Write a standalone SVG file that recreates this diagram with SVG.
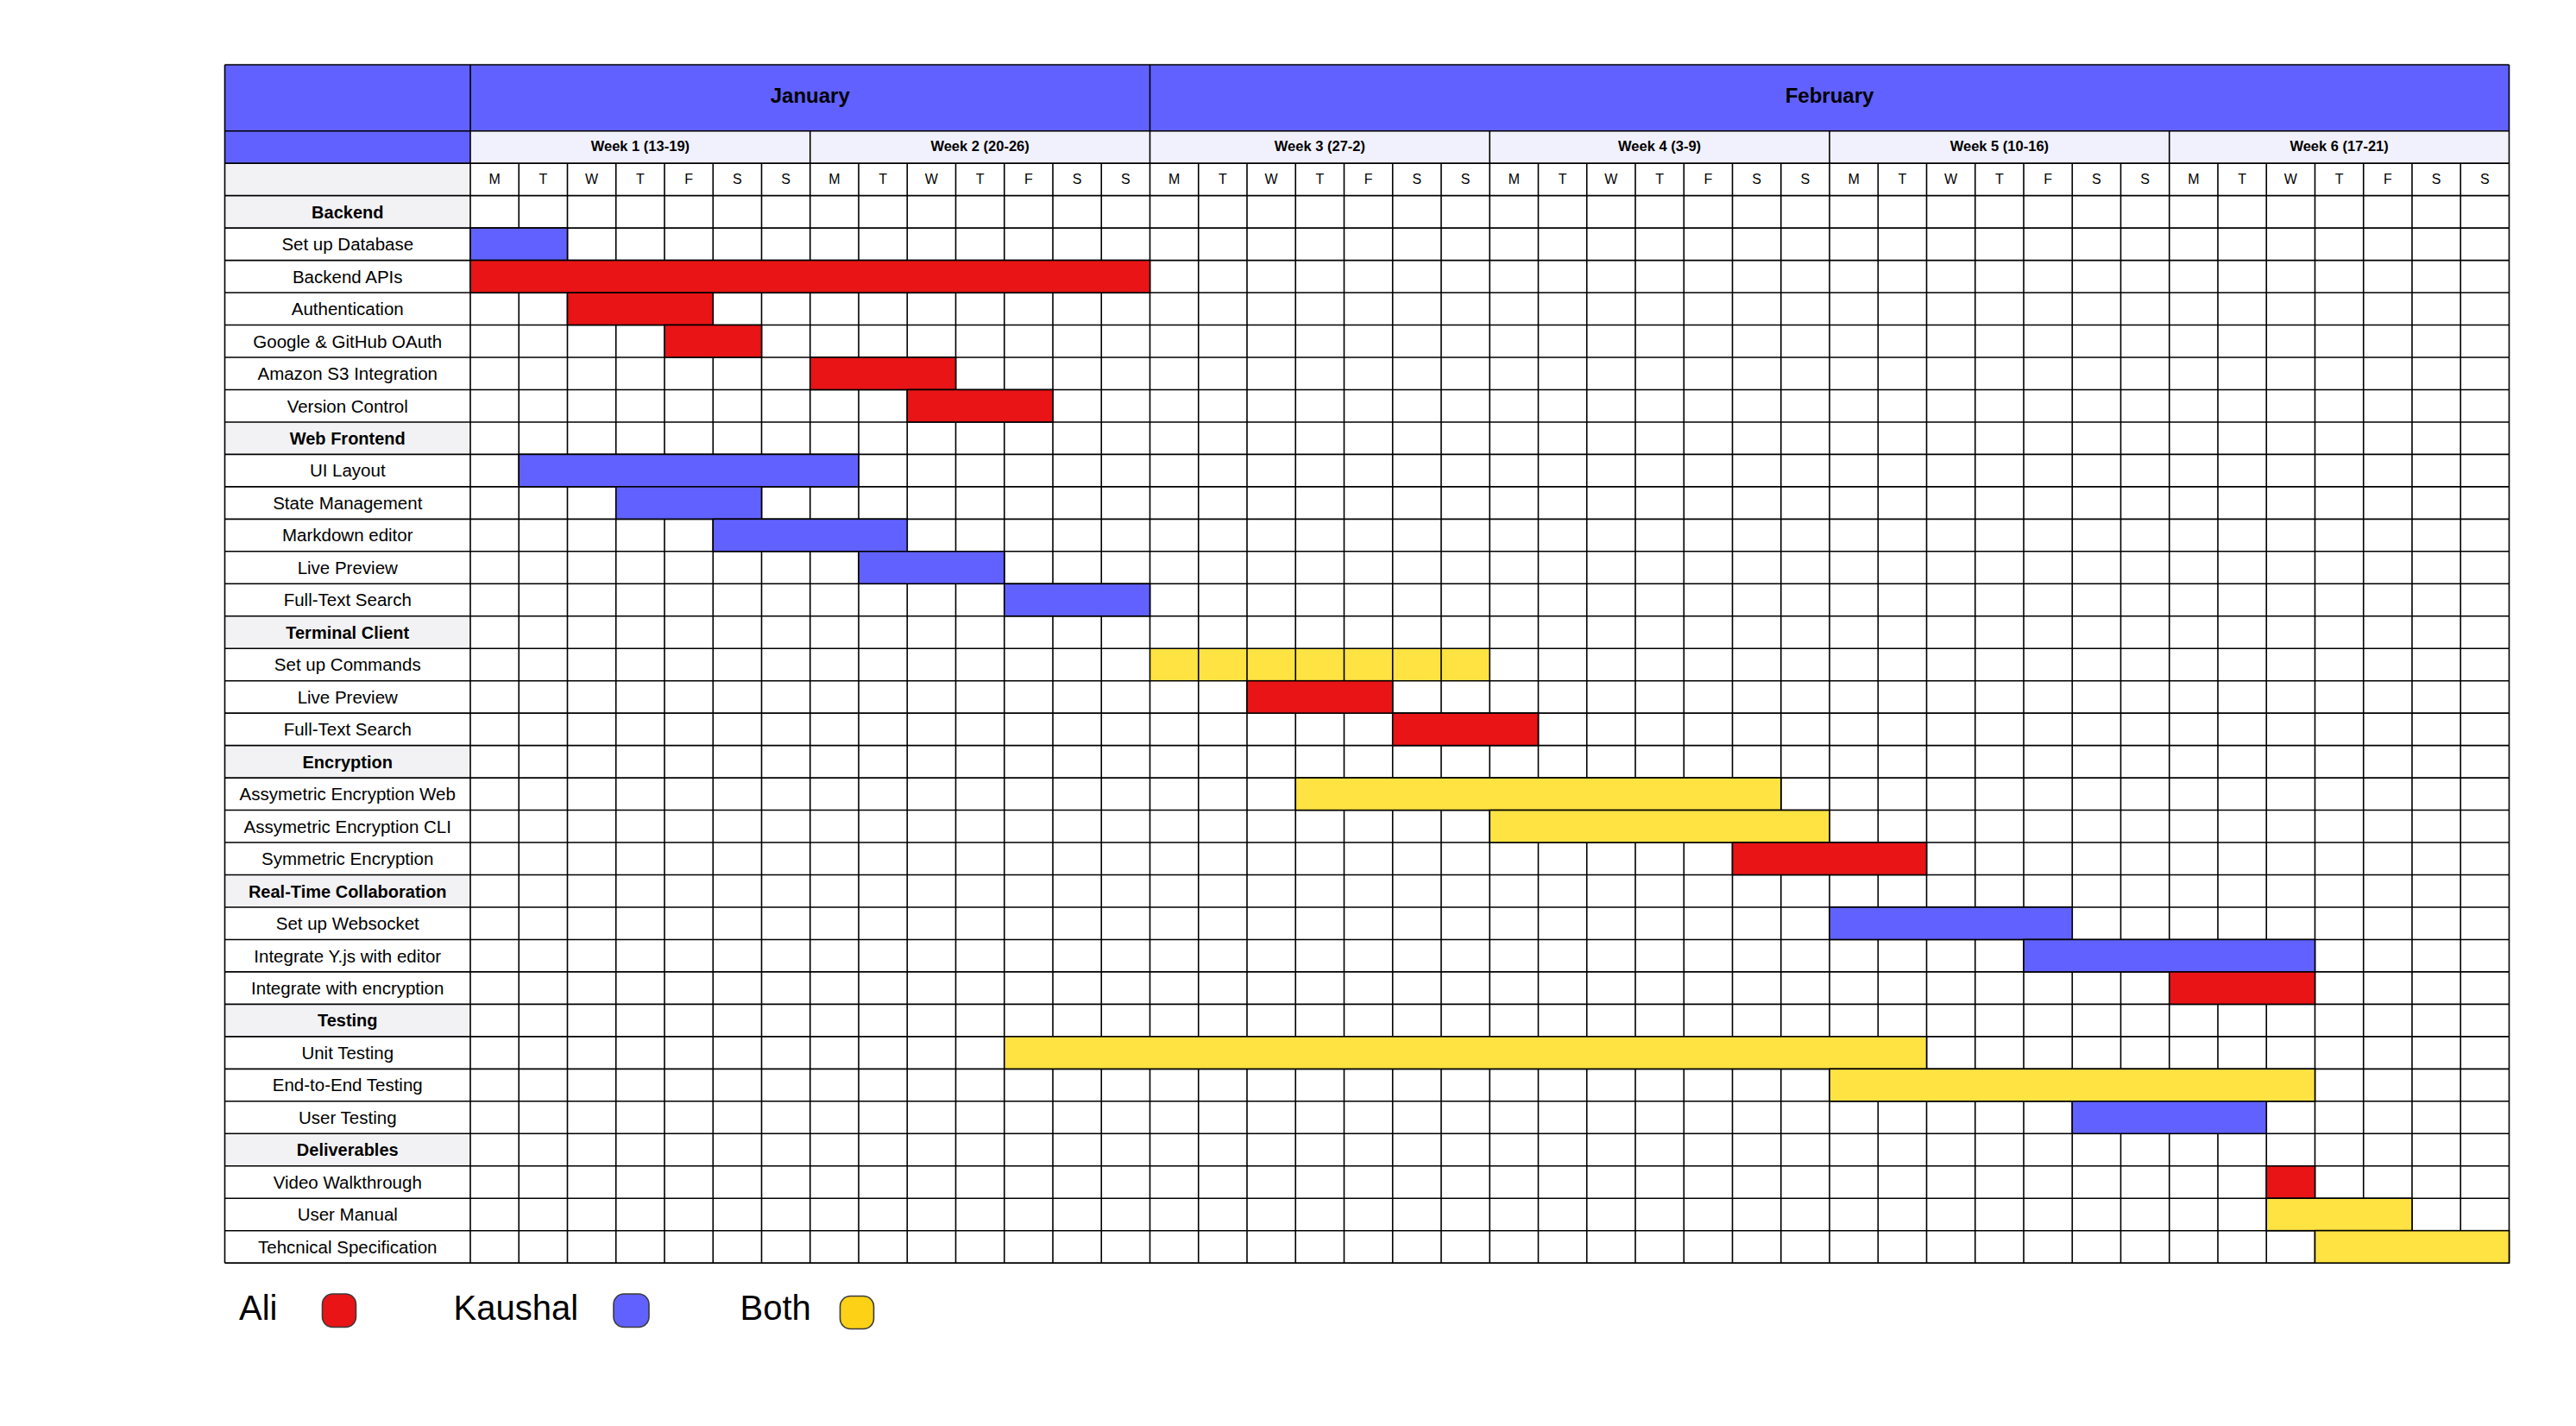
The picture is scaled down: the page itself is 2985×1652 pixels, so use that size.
<svg xmlns="http://www.w3.org/2000/svg" width="2985" height="1652" viewBox="0 0 2985 1652">
<style>
text{font-family:"Liberation Sans",Arial,sans-serif;fill:#000;text-anchor:middle}
.lbl{font-size:20.5px}
.sec{font-size:20px;font-weight:bold}
.day{font-size:16px}
.wk{font-size:16.5px;font-weight:bold}
.mon{font-size:24px;font-weight:bold}
.leg{font-size:40px;text-anchor:start}
.grid{fill:none;stroke:#000;stroke-width:1.6}
.r{fill:#E81416;stroke:#000;stroke-width:1.6}
.b{fill:#6161FF;stroke:#000;stroke-width:1.6}
.y{fill:#FFE342;stroke:#000;stroke-width:1.6}
.lg{stroke:#3a3a3a;stroke-width:1.6}
</style>
<rect width="2985" height="1652" fill="#fff"/>
<g id="backgrounds">
<rect x="260.5" y="75" width="2647" height="76.7" fill="#6161FF"/>
<rect x="260.5" y="151.7" width="284.5" height="37.47" fill="#6161FF"/>
<rect x="545" y="151.7" width="2362.5" height="37.47" fill="#F1F1FD"/>
<rect x="260.5" y="189.17" width="284.5" height="37.47" fill="#F2F2F4"/>
<rect x="260.5" y="226.64" width="284.5" height="37.47" fill="#F2F2F4"/>
<rect x="260.5" y="488.93" width="284.5" height="37.47" fill="#F2F2F4"/>
<rect x="260.5" y="713.75" width="284.5" height="37.47" fill="#F2F2F4"/>
<rect x="260.5" y="863.63" width="284.5" height="37.47" fill="#F2F2F4"/>
<rect x="260.5" y="1013.51" width="284.5" height="37.47" fill="#F2F2F4"/>
<rect x="260.5" y="1163.39" width="284.5" height="37.47" fill="#F2F2F4"/>
<rect x="260.5" y="1313.27" width="284.5" height="37.47" fill="#F2F2F4"/>
<rect x="1332.5" y="751.22" width="393.75" height="37.47" fill="#FFE342"/>
</g>
<g id="grid">
<path class="grid" d="M260.5 75H2907.5M260.5 151.7H2907.5M260.5 189.17H2907.5M260.5 226.64H2907.5M260.5 264.11H2907.5M260.5 301.58H2907.5M260.5 339.05H2907.5M260.5 376.52H2907.5M260.5 413.99H2907.5M260.5 451.46H2907.5M260.5 488.93H2907.5M260.5 526.4H2907.5M260.5 563.87H2907.5M260.5 601.34H2907.5M260.5 638.81H2907.5M260.5 676.28H2907.5M260.5 713.75H2907.5M260.5 751.22H2907.5M260.5 788.69H2907.5M260.5 826.16H2907.5M260.5 863.63H2907.5M260.5 901.1H2907.5M260.5 938.57H2907.5M260.5 976.04H2907.5M260.5 1013.51H2907.5M260.5 1050.98H2907.5M260.5 1088.45H2907.5M260.5 1125.92H2907.5M260.5 1163.39H2907.5M260.5 1200.86H2907.5M260.5 1238.33H2907.5M260.5 1275.8H2907.5M260.5 1313.27H2907.5M260.5 1350.74H2907.5M260.5 1388.21H2907.5M260.5 1425.68H2907.5M260.5 1463.15H2907.5"/>
<path class="grid" d="M260.5 75V1463.15M545 75V1463.15M1332.5 75V1463.15M2907.5 75V1463.15M938.75 151.7V1463.15M1726.25 151.7V1463.15M2120 151.7V1463.15M2513.75 151.7V1463.15M601.25 189.17V1463.15M657.5 189.17V1463.15M713.75 189.17V1463.15M770 189.17V1463.15M826.25 189.17V1463.15M882.5 189.17V1463.15M995 189.17V1463.15M1051.25 189.17V1463.15M1107.5 189.17V1463.15M1163.75 189.17V1463.15M1220 189.17V1463.15M1276.25 189.17V1463.15M1388.75 189.17V1463.15M1445 189.17V1463.15M1501.25 189.17V1463.15M1557.5 189.17V1463.15M1613.75 189.17V1463.15M1670 189.17V1463.15M1782.5 189.17V1463.15M1838.75 189.17V1463.15M1895 189.17V1463.15M1951.25 189.17V1463.15M2007.5 189.17V1463.15M2063.75 189.17V1463.15M2176.25 189.17V1463.15M2232.5 189.17V1463.15M2288.75 189.17V1463.15M2345 189.17V1463.15M2401.25 189.17V1463.15M2457.5 189.17V1463.15M2570 189.17V1463.15M2626.25 189.17V1463.15M2682.5 189.17V1463.15M2738.75 189.17V1463.15M2795 189.17V1463.15M2851.25 189.17V1463.15"/>
</g>
<g id="header">
<text class="mon" x="938.75" y="118.5">January</text>
<text class="mon" x="2120" y="118.5">February</text>
<text class="wk" x="741.9" y="175">Week 1 (13-19)</text>
<text class="wk" x="1135.6" y="175">Week 2 (20-26)</text>
<text class="wk" x="1529.4" y="175">Week 3 (27-2)</text>
<text class="wk" x="1923.1" y="175">Week 4 (3-9)</text>
<text class="wk" x="2316.9" y="175">Week 5 (10-16)</text>
<text class="wk" x="2710.6" y="175">Week 6 (17-21)</text>
</g>
<g id="days" class="day">
<text class="day" x="573.1" y="212.5">M</text><text class="day" x="629.4" y="212.5">T</text><text class="day" x="685.6" y="212.5">W</text><text class="day" x="741.9" y="212.5">T</text><text class="day" x="798.1" y="212.5">F</text><text class="day" x="854.4" y="212.5">S</text><text class="day" x="910.6" y="212.5">S</text>
<text class="day" x="966.9" y="212.5">M</text><text class="day" x="1023.1" y="212.5">T</text><text class="day" x="1079.4" y="212.5">W</text><text class="day" x="1135.6" y="212.5">T</text><text class="day" x="1191.9" y="212.5">F</text><text class="day" x="1248.1" y="212.5">S</text><text class="day" x="1304.4" y="212.5">S</text>
<text class="day" x="1360.6" y="212.5">M</text><text class="day" x="1416.9" y="212.5">T</text><text class="day" x="1473.1" y="212.5">W</text><text class="day" x="1529.4" y="212.5">T</text><text class="day" x="1585.6" y="212.5">F</text><text class="day" x="1641.9" y="212.5">S</text><text class="day" x="1698.1" y="212.5">S</text>
<text class="day" x="1754.4" y="212.5">M</text><text class="day" x="1810.6" y="212.5">T</text><text class="day" x="1866.9" y="212.5">W</text><text class="day" x="1923.1" y="212.5">T</text><text class="day" x="1979.4" y="212.5">F</text><text class="day" x="2035.6" y="212.5">S</text><text class="day" x="2091.9" y="212.5">S</text>
<text class="day" x="2148.1" y="212.5">M</text><text class="day" x="2204.4" y="212.5">T</text><text class="day" x="2260.6" y="212.5">W</text><text class="day" x="2316.9" y="212.5">T</text><text class="day" x="2373.1" y="212.5">F</text><text class="day" x="2429.4" y="212.5">S</text><text class="day" x="2485.6" y="212.5">S</text>
<text class="day" x="2541.9" y="212.5">M</text><text class="day" x="2598.1" y="212.5">T</text><text class="day" x="2654.4" y="212.5">W</text><text class="day" x="2710.6" y="212.5">T</text><text class="day" x="2766.9" y="212.5">F</text><text class="day" x="2823.1" y="212.5">S</text><text class="day" x="2879.4" y="212.5">S</text>
</g>
<g id="labels">
<text class="sec" x="402.75" y="252.6">Backend</text>
<text class="lbl" x="402.75" y="290.1">Set up Database</text>
<text class="lbl" x="402.75" y="327.6">Backend APIs</text>
<text class="lbl" x="402.75" y="365.1">Authentication</text>
<text class="lbl" x="402.75" y="402.5">Google &amp; GitHub OAuth</text>
<text class="lbl" x="402.75" y="440">Amazon S3 Integration</text>
<text class="lbl" x="402.75" y="477.5">Version Control</text>
<text class="sec" x="402.75" y="514.9">Web Frontend</text>
<text class="lbl" x="402.75" y="552.4">UI Layout</text>
<text class="lbl" x="402.75" y="589.9">State Management</text>
<text class="lbl" x="402.75" y="627.3">Markdown editor</text>
<text class="lbl" x="402.75" y="664.8">Live Preview</text>
<text class="lbl" x="402.75" y="702.3">Full-Text Search</text>
<text class="sec" x="402.75" y="739.8">Terminal Client</text>
<text class="lbl" x="402.75" y="777.2">Set up Commands</text>
<text class="lbl" x="402.75" y="814.7">Live Preview</text>
<text class="lbl" x="402.75" y="852.2">Full-Text Search</text>
<text class="sec" x="402.75" y="889.6">Encryption</text>
<text class="lbl" x="402.75" y="927.1">Assymetric Encryption Web</text>
<text class="lbl" x="402.75" y="964.6">Assymetric Encryption CLI</text>
<text class="lbl" x="402.75" y="1002">Symmetric Encryption</text>
<text class="sec" x="402.75" y="1039.5">Real-Time Collaboration</text>
<text class="lbl" x="402.75" y="1077">Set up Websocket</text>
<text class="lbl" x="402.75" y="1114.5">Integrate Y.js with editor</text>
<text class="lbl" x="402.75" y="1151.9">Integrate with encryption</text>
<text class="sec" x="402.75" y="1189.4">Testing</text>
<text class="lbl" x="402.75" y="1226.9">Unit Testing</text>
<text class="lbl" x="402.75" y="1264.3">End-to-End Testing</text>
<text class="lbl" x="402.75" y="1301.8">User Testing</text>
<text class="sec" x="402.75" y="1339.3">Deliverables</text>
<text class="lbl" x="402.75" y="1376.7">Video Walkthrough</text>
<text class="lbl" x="402.75" y="1414.2">User Manual</text>
<text class="lbl" x="402.75" y="1451.7">Tehcnical Specification</text>
</g>
<g id="bars">
<rect id="bar-setup-db" class="b" x="545" y="264.11" width="112.5" height="37.47"/>
<rect id="bar-backend-apis" class="r" x="545" y="301.58" width="787.5" height="37.47"/>
<rect id="bar-auth" class="r" x="657.5" y="339.05" width="168.75" height="37.47"/>
<rect id="bar-oauth" class="r" x="770" y="376.52" width="112.5" height="37.47"/>
<rect id="bar-s3" class="r" x="938.75" y="413.99" width="168.75" height="37.47"/>
<rect id="bar-vc" class="r" x="1051.25" y="451.46" width="168.75" height="37.47"/>
<rect id="bar-ui" class="b" x="601.25" y="526.4" width="393.75" height="37.47"/>
<rect id="bar-state" class="b" x="713.75" y="563.87" width="168.75" height="37.47"/>
<rect id="bar-md" class="b" x="826.25" y="601.34" width="225" height="37.47"/>
<rect id="bar-live-web" class="b" x="995" y="638.81" width="168.75" height="37.47"/>
<rect id="bar-fts-web" class="b" x="1163.75" y="676.28" width="168.75" height="37.47"/>
<rect id="bar-live-cli" class="r" x="1445" y="788.69" width="168.75" height="37.47"/>
<rect id="bar-fts-cli" class="r" x="1613.75" y="826.16" width="168.75" height="37.47"/>
<rect id="bar-asym-web" class="y" x="1501.25" y="901.1" width="562.5" height="37.47"/>
<rect id="bar-asym-cli" class="y" x="1726.25" y="938.57" width="393.75" height="37.47"/>
<rect id="bar-sym" class="r" x="2007.5" y="976.04" width="225" height="37.47"/>
<rect id="bar-ws" class="b" x="2120" y="1050.98" width="281.25" height="37.47"/>
<rect id="bar-yjs" class="b" x="2345" y="1088.45" width="337.5" height="37.47"/>
<rect id="bar-int-enc" class="r" x="2513.75" y="1125.92" width="168.75" height="37.47"/>
<rect id="bar-unit" class="y" x="1163.75" y="1200.86" width="1068.75" height="37.47"/>
<rect id="bar-e2e" class="y" x="2120" y="1238.33" width="562.5" height="37.47"/>
<rect id="bar-user" class="b" x="2401.25" y="1275.8" width="225" height="37.47"/>
<rect id="bar-video" class="r" x="2626.25" y="1350.74" width="56.25" height="37.47"/>
<rect id="bar-manual" class="y" x="2626.25" y="1388.21" width="168.75" height="37.47"/>
<rect id="bar-spec" class="y" x="2682.5" y="1425.68" width="225" height="37.47"/>
</g>
<g id="legend">
<g id="legend-ali"><text class="leg" x="277" y="1529">Ali</text><rect class="lg" x="373.5" y="1499" width="39" height="38.5" rx="12" fill="#E81416"/></g>
<g id="legend-kaushal"><text class="leg" x="525.5" y="1529">Kaushal</text><rect class="lg" x="711" y="1499" width="41" height="38.5" rx="12" fill="#6161FF"/></g>
<g id="legend-both"><text class="leg" x="857.5" y="1529">Both</text><rect class="lg" x="973.5" y="1501.5" width="39" height="38" rx="12" fill="#FCD116"/></g>
</g>
</svg>
